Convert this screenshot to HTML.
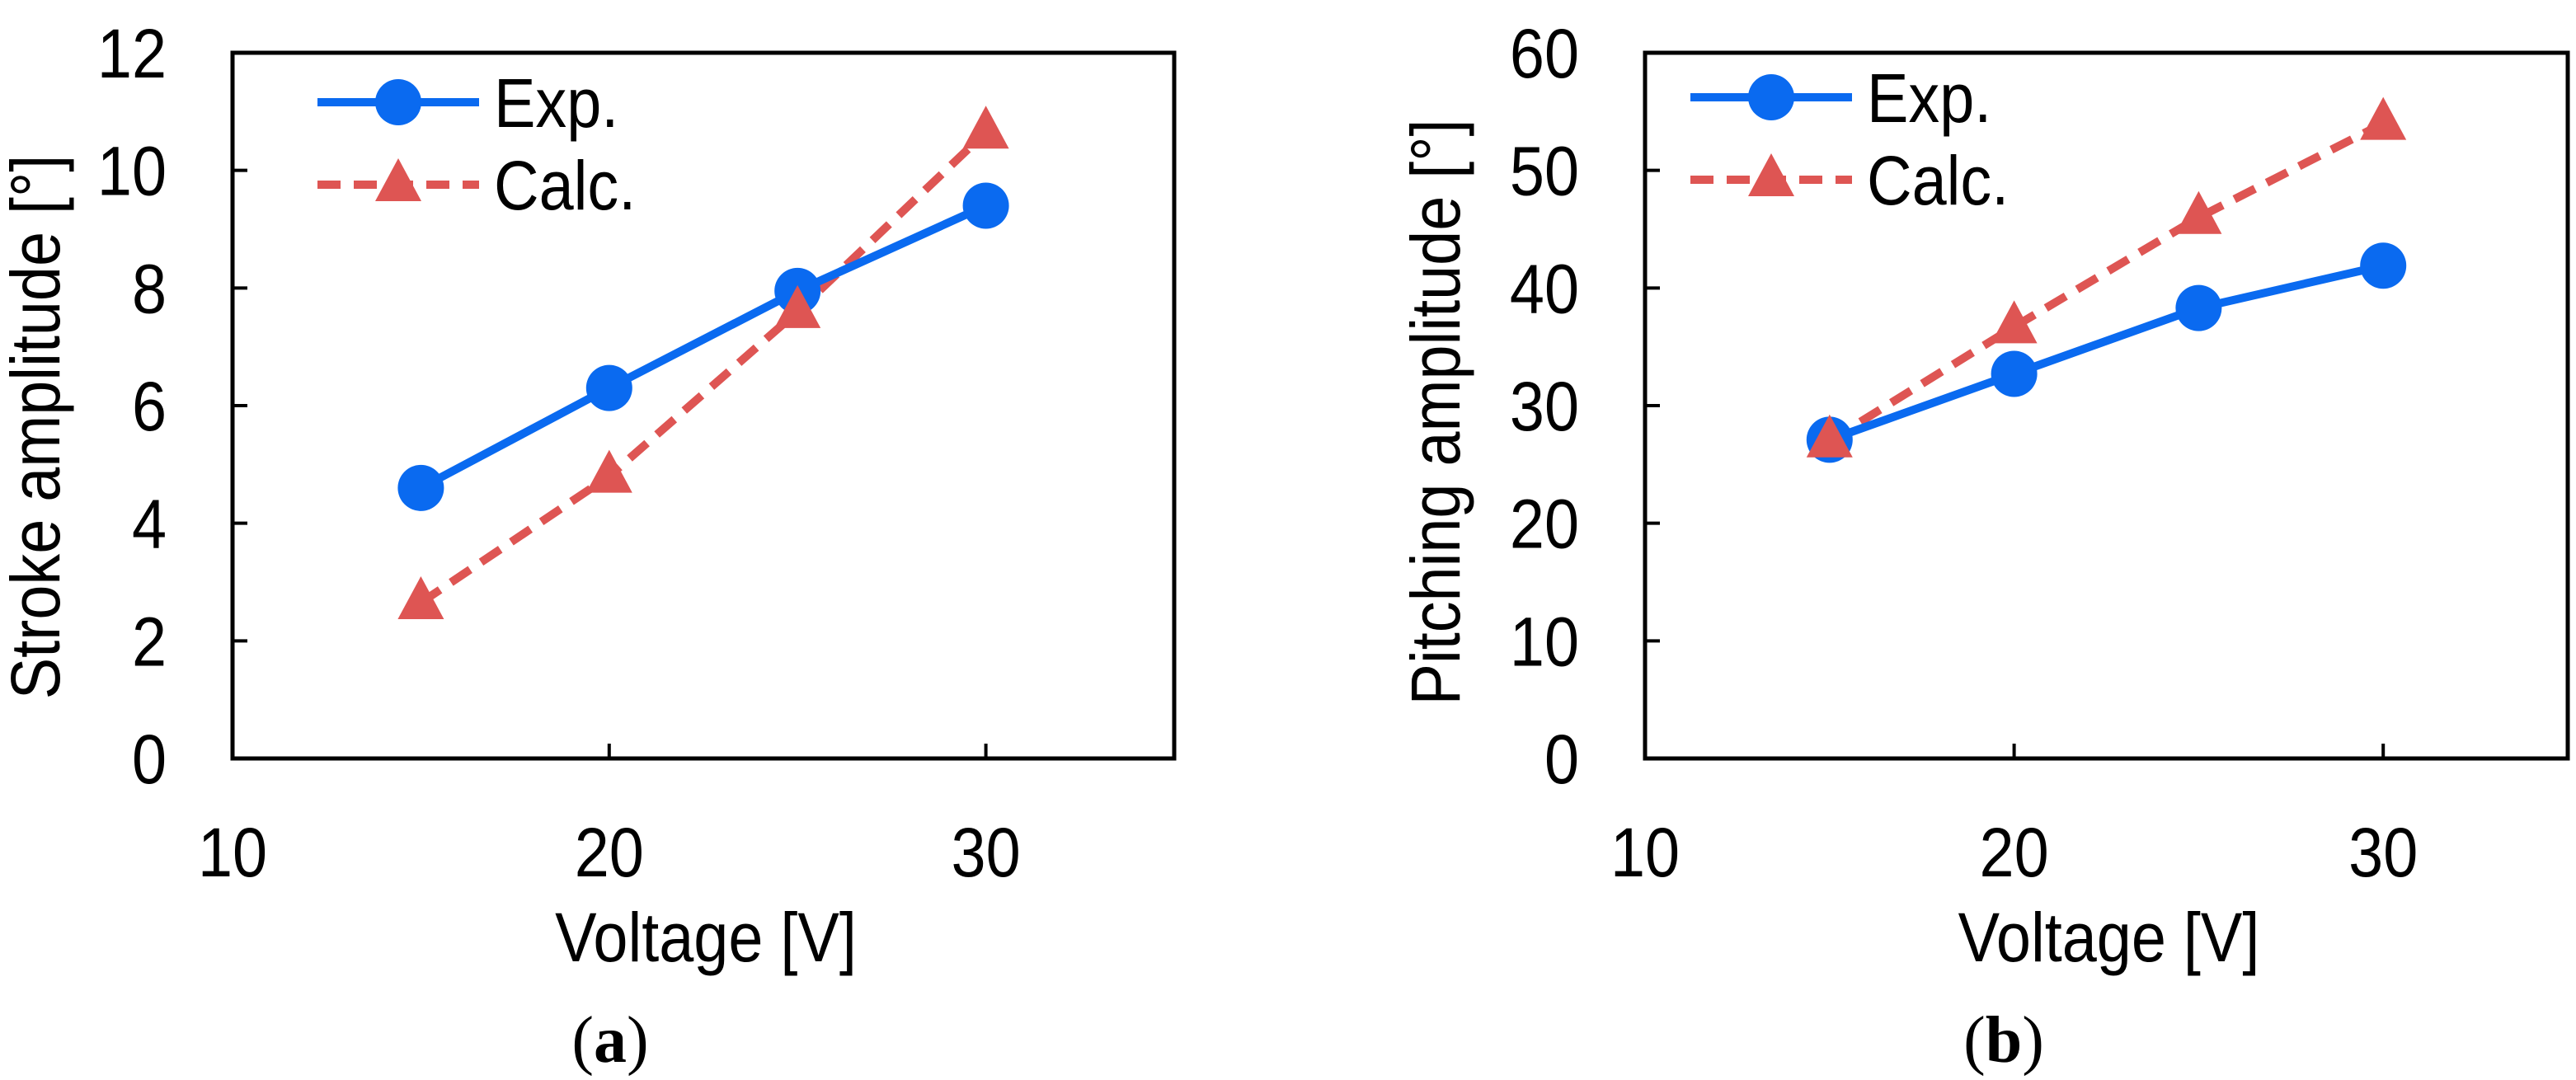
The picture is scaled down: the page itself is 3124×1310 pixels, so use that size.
<!DOCTYPE html>
<html><head><meta charset="utf-8"><style>
html,body{margin:0;padding:0;background:#fff}
svg{display:block}
text{font-family:"Liberation Sans",sans-serif;fill:#000}
</style></head><body>
<svg id="fig" width="3124" height="1310" viewBox="0 0 3124 1310" xmlns="http://www.w3.org/2000/svg"></svg>
<script>
const voltages = [15, 20, 25, 30];
const strokeExp = [4.6, 6.3, 7.95, 9.4];
const strokeCalc = [2.65, 4.8, 7.6, 10.65];
const pitchExp = [27.1, 32.7, 38.3, 41.9];
const pitchCalc = [27, 36.7, 46, 54];
const xTicks = [10, 20, 30];
const yTicksA = [0, 2, 4, 6, 8, 10, 12];
const yTicksB = [0, 10, 20, 30, 40, 50, 60];

const NS = "http://www.w3.org/2000/svg";
const svg = document.getElementById('fig');
function mk(tag, attrs, parent, txt){
  const e = document.createElementNS(NS, tag);
  for (const k in attrs) e.setAttribute(k, attrs[k]);
  if (txt !== undefined) e.textContent = txt;
  (parent || svg).appendChild(e);
  return e;
}
function drawChart(cfg){
  const g = mk('g', {});
  
  
  const L = cfg.left, R = cfg.right, T = 64, B = 920;
  const xs = v => L + (v - 10) / 25 * (R - L);
  const ys = v => B - v / cfg.ymax * (B - T);
  const frame = mk('rect', {x:L, y:T, width:R-L, height:B-T, fill:'none', stroke:'#000', 'stroke-width':5}, g);
  
  
  cfg.yTicks.forEach(v => {
    const y = ys(v);
    if (v > 0 && v < cfg.ymax) mk('line', {x1:L, x2:L+18, y1:y, y2:y, stroke:'#000', 'stroke-width':4}, g);
    const t = mk('text', {x:0, y:0, 'font-size':84, 'text-anchor':'end', transform:`translate(${L-80},${y+30}) scale(0.9,1)`}, g, v);
    
    
  });
  xTicks.forEach(v => {
    const x = xs(v);
    if (v > 10) mk('line', {x1:x, x2:x, y1:B, y2:B-18, stroke:'#000', 'stroke-width':4}, g);
    const t = mk('text', {x:0, y:0, 'font-size':84, 'text-anchor':'middle', transform:`translate(${x},${1063}) scale(0.9,1)`}, g, v);
    
    
  });
  const xt = mk('text', {x:0, y:0, 'font-size':84, 'text-anchor':'middle', transform:`translate(${(L+R)/2+3},1166) scale(0.9,1)`}, g, 'Voltage [V]');
  
  
  const yt = mk('text', {x:0, y:0, 'font-size':84, 'text-anchor':'middle', transform:`translate(${cfg.ylx},${cfg.yly}) rotate(-90) scale(0.9,1)`}, g, cfg.ytitle);
  
  
  const cp = voltages.map((v,i)=>xs(v)+','+ys(cfg.calc[i])).join(' ');
  const cl = mk('polyline', {points:cp, fill:'none', stroke:'#de5553', 'stroke-width':10, 'stroke-dasharray':'28 16'}, g);
  
  
  const ep = voltages.map((v,i)=>xs(v)+','+ys(cfg.exp[i])).join(' ');
  const el = mk('polyline', {points:ep, fill:'none', stroke:'#0a6af0', 'stroke-width':10}, g);
  
  
  voltages.forEach((v,i)=>{
    const c = mk('circle', {cx:xs(v), cy:ys(cfg.exp[i]), r:28, fill:'#0a6af0'}, g);
    
    
  });
  voltages.forEach((v,i)=>{
    const x = xs(v), y = ys(cfg.calc[i]);
    const p = mk('polygon', {points:`${x},${y-32} ${x-28},${y+20} ${x+28},${y+20}`, fill:'#de5553'}, g);
    
    
  });
  const lx = cfg.legX, ly1 = cfg.legY, ly2 = cfg.legY + 100;
  const le = mk('g', {}, g);
  
  
  mk('line', {x1:lx, x2:lx+196, y1:ly1, y2:ly1, stroke:'#0a6af0', 'stroke-width':10}, le);
  mk('circle', {cx:lx+98, cy:ly1, r:28, fill:'#0a6af0'}, le);
  mk('text', {x:0, y:0, 'font-size':84, transform:`translate(${lx+214},${ly1+30}) scale(0.9,1)`}, le, 'Exp.');
  const lc = mk('g', {}, g);
  
  
  mk('line', {x1:lx, x2:lx+196, y1:ly2, y2:ly2, stroke:'#de5553', 'stroke-width':10, 'stroke-dasharray':'28 16'}, lc);
  mk('polygon', {points:`${lx+98},${ly2-32} ${lx+70},${ly2+20} ${lx+126},${ly2+20}`, fill:'#de5553'}, lc);
  mk('text', {x:0, y:0, 'font-size':84, transform:`translate(${lx+214},${ly2+30}) scale(0.9,1)`}, lc, 'Calc.');
  const cap = mk('text', {x:cfg.capX, y:1288, 'font-size':80, 'text-anchor':'middle', style:'font-family:"Liberation Serif",serif'}, g);
  
  
  mk('tspan', {}, cap, '(');
  mk('tspan', {'font-weight':'bold'}, cap, cfg.cap);
  mk('tspan', {}, cap, ')');
}
drawChart({name:'chart-a-stroke', left:282, right:1424, ymax:12, yTicks:yTicksA, exp:strokeExp, calc:strokeCalc,
  ytitle:'Stroke amplitude [°]', ylx:72, yly:518, legX:385, legY:124, capX:740, cap:'a'});
drawChart({name:'chart-b-pitching', left:1995, right:3114, ymax:60, yTicks:yTicksB, exp:pitchExp, calc:pitchCalc,
  ytitle:'Pitching amplitude [°]', ylx:1770, yly:500, legX:2050, legY:118, capX:2430, cap:'b'});
</script>
</body></html>
